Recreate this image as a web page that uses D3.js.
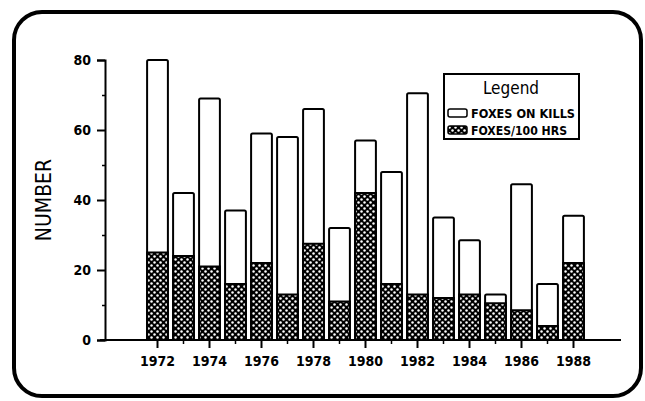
<!DOCTYPE html>
<html lang="en">
<head>
    <meta charset="UTF-8">
    <title>Foxes</title>
    <script src="https://d3js.org/d3.v7.min.js"></script>
    <style>
        body { margin: 0; background: #fff; }
        .tick text { font-family: "Liberation Sans Narrow", "DejaVu Sans Condensed", sans-serif; font-weight: bold; font-size: 14px; fill: #000; }
    </style>
</head>
<body>
    <svg id="chart" width="645" height="401"></svg>

    <script>
        // datos
        var years = [1972, 1973, 1974, 1975, 1976, 1977, 1978, 1979, 1980, 1981, 1982, 1983, 1984, 1985, 1986, 1987, 1988];
        var foxesOnKills = [80, 42, 69, 37, 59, 58, 66, 32, 57, 48, 70.5, 35, 28.5, 13, 44.5, 16, 35.5];
        var foxesPer100 = [25, 24, 21, 16, 22, 13, 27.5, 11, 42, 16, 13, 12, 13, 10.5, 8.5, 4, 22];
        var yTicks = [0, 20, 40, 60, 80];
        var yMinor = [10, 30, 50, 70];
        var xLabels = [1972, 1974, 1976, 1978, 1980, 1982, 1984, 1986, 1988];

        var svg = d3.select("#chart");

        // patron de puntos blancos sobre negro
        var pat = svg.append("defs").append("pattern")
            .attr("id", "dots")
            .attr("patternUnits", "userSpaceOnUse")
            .attr("width", 6).attr("height", 6);
        pat.append("rect").attr("width", 6).attr("height", 6).attr("fill", "#000");
        pat.append("circle").attr("cx", 1.5).attr("cy", 1.5).attr("r", 1.25).attr("fill", "#fff");
        pat.append("circle").attr("cx", 4.5).attr("cy", 4.5).attr("r", 1.25).attr("fill", "#fff");

        // marco redondeado
        svg.append("rect")
            .attr("x", 14).attr("y", 12)
            .attr("width", 627).attr("height", 384)
            .attr("rx", 28)
            .attr("fill", "none")
            .attr("stroke", "#000")
            .attr("stroke-width", 4);

        var x = d3.scaleBand()
            .domain(years)
            .range([144.5, 586.5])
            .paddingInner(0.2)
            .paddingOuter(0.1);

        var y = d3.scaleLinear()
            .domain([0, 80])
            .range([340, 60]);

        // eje y
        var yAxis = svg.append("g")
            .attr("transform", "translate(105,0)")
            .call(d3.axisLeft(y).tickValues(yTicks).tickSize(8).tickPadding(6));
        yAxis.select(".domain").attr("stroke-width", 2);
        yAxis.selectAll(".tick line").attr("stroke-width", 2);

        var yAxisMinor = svg.append("g")
            .attr("transform", "translate(105,0)")
            .call(d3.axisLeft(y).tickValues(yMinor).tickSize(3).tickFormat(""));
        yAxisMinor.select(".domain").remove();
        yAxisMinor.selectAll(".tick line").attr("stroke-width", 1.5);

        // linea base
        svg.append("line")
            .attr("x1", 100).attr("x2", 621)
            .attr("y1", y(0)).attr("y2", y(0))
            .attr("stroke", "#000")
            .attr("stroke-width", 2);

        // barras blancas (zorros en presas)
        svg.selectAll(".kills")
            .data(years)
            .enter().append("rect")
            .attr("class", "kills")
            .attr("x", d => x(d))
            .attr("y", (d, i) => y(foxesOnKills[i]))
            .attr("width", x.bandwidth())
            .attr("height", (d, i) => y(0) - y(foxesOnKills[i]))
            .attr("rx", 1.5)
            .attr("fill", "#fff")
            .attr("stroke", "#000")
            .attr("stroke-width", 2);

        // barras punteadas (zorros / 100 hrs)
        svg.selectAll(".hrs")
            .data(years)
            .enter().append("rect")
            .attr("class", "hrs")
            .attr("x", d => x(d))
            .attr("y", (d, i) => y(foxesPer100[i]))
            .attr("width", x.bandwidth())
            .attr("height", (d, i) => y(0) - y(foxesPer100[i]))
            .attr("fill", "url(#dots)")
            .attr("stroke", "#000")
            .attr("stroke-width", 2);

        // eje x
        var xAxis = svg.append("g")
            .attr("transform", "translate(0," + y(0) + ")")
            .call(d3.axisBottom(x).tickValues(xLabels).tickSize(8).tickPadding(8));
        xAxis.select(".domain").remove();
        xAxis.selectAll(".tick line").attr("stroke-width", 2);

        var xAxisMinor = svg.append("g")
            .attr("transform", "translate(0," + y(0) + ")")
            .call(d3.axisBottom(x).tickValues(years.filter(d => d % 2 === 1)).tickSize(4).tickFormat(""));
        xAxisMinor.select(".domain").remove();
        xAxisMinor.selectAll(".tick line").attr("stroke-width", 1.5);

        // titulo del eje y
        svg.append("text")
            .attr("transform", "translate(51,200) rotate(-90)")
            .attr("text-anchor", "middle")
            .attr("font-family", "'DejaVu Sans Condensed', sans-serif")
            .attr("font-size", "21px")
            .text("NUMBER");

        // leyenda
        var legend = svg.append("g");
        legend.append("rect")
            .attr("x", 444).attr("y", 74)
            .attr("width", 135).attr("height", 65)
            .attr("fill", "#fff")
            .attr("stroke", "#000")
            .attr("stroke-width", 2);
        legend.append("text")
            .attr("x", 511).attr("y", 94)
            .attr("text-anchor", "middle")
            .attr("font-family", "'DejaVu Sans Condensed', sans-serif")
            .attr("font-size", "17px")
            .text("Legend");

        var legendItems = [
            { label: "FOXES ON KILLS", fill: "#fff" },
            { label: "FOXES/100 HRS", fill: "url(#dots)" }
        ];
        var item = legend.selectAll(".item")
            .data(legendItems)
            .enter().append("g")
            .attr("class", "item")
            .attr("transform", (d, i) => "translate(448," + (109 + i * 17) + ")");
        item.append("rect")
            .attr("width", 19).attr("height", 8)
            .attr("rx", 2)
            .attr("fill", d => d.fill)
            .attr("stroke", "#000")
            .attr("stroke-width", 1.5);
        item.append("text")
            .attr("x", 23).attr("y", 8.5)
            .attr("font-family", "'Liberation Sans Narrow', 'DejaVu Sans Condensed', sans-serif")
            .attr("font-weight", "bold")
            .attr("font-size", "12px")
            .attr("textLength", (d, i) => i === 0 ? 104 : 96)
            .attr("lengthAdjust", "spacingAndGlyphs")
            .text(d => d.label);
    </script>
</body>
</html>
